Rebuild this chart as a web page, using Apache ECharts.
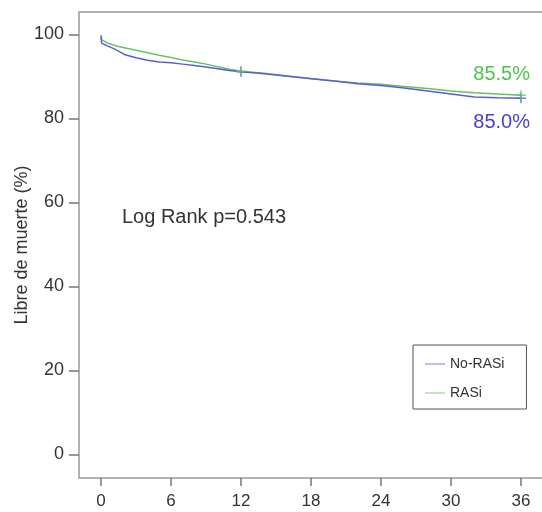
<!DOCTYPE html>
<html>
<head>
<meta charset="utf-8">
<script src="https://cdn.jsdelivr.net/npm/echarts@6/dist/echarts.min.js"></script>
<style>html,body{margin:0;padding:0;background:#fff;}#c{width:542px;height:512px;}</style>
</head>
<body>
<div id="c"></div>
<script>
const months = [0,0.05,0.5,1,1.5,2,3,4,5,6,7,8,9,10,11,12,14,16,18,20,22,24,26,28,30,32,34,36];
const noRasi = [99.5,97.9,97.3,96.7,96.0,95.2,94.4,93.8,93.4,93.2,92.9,92.6,92.2,91.8,91.4,91.1,90.6,90.0,89.4,88.9,88.2,87.8,87.2,86.5,85.8,85.1,84.9,84.8];
const rasi = [99.9,98.7,98.0,97.5,97.1,96.8,96.2,95.6,95.0,94.5,93.9,93.4,92.9,92.3,91.7,91.2,90.7,90.1,89.5,88.9,88.4,88.1,87.6,87.1,86.5,86.1,85.8,85.5];
const censorMonths = [12, 36];
const noRasiCensor = [91.1, 84.8];
const rasiCensor = [91.2, 85.5];
const xTicks = [0, 6, 12, 18, 24, 30, 36];
const yTicks = [0, 20, 40, 60, 80, 100];
const seriesNames = ['No-RASi', 'RASi'];
const endLabels = ['85.0%', '85.5%'];
const logRankText = 'Log Rank p=0.543';
const yName = 'Libre de muerte (%)';

const BLUE = '#5c5cd2', GREEN = '#66c266';
const FONT = '"Liberation Sans", Arial, Helvetica, sans-serif';
const zip = (a, b) => a.map((v, i) => [v, b[i]]);

const chart = echarts.init(document.getElementById('c'), null, {renderer: 'canvas'});
chart.setOption({
  animation: false,
  backgroundColor: '#fff',
  grid: {left: 79, top: 12, right: -3, bottom: 34, outerBoundsMode: 'none', containLabel: false,
         show: true, borderColor: '#999', borderWidth: 1.5, backgroundColor: 'transparent'},
  xAxis: {
    type: 'value', min: -1.886, max: 38.06,
    axisLine: {show: false, onZero: false},
    axisTick: {show: true, length: 8, customValues: xTicks, lineStyle: {color: '#777', width: 1.5}},
    axisLabel: {customValues: xTicks, margin: 15, color: '#333', fontSize: 17, fontFamily: FONT},
    splitLine: {show: false}
  },
  yAxis: {
    type: 'value', min: -5.64, max: 105.31,
    name: yName, nameLocation: 'middle', nameGap: 48, nameRotate: 90, nameMoveOverlap: false,
    nameTextStyle: {color: '#333', fontSize: 18, fontFamily: FONT},
    axisLine: {show: false, onZero: false},
    axisTick: {show: true, length: 10, customValues: yTicks, lineStyle: {color: '#777', width: 1.5}},
    axisLabel: {customValues: yTicks, margin: 15, color: '#333', fontSize: 18, fontFamily: FONT},
    splitLine: {show: false}
  },
  legend: {
    orient: 'vertical', left: 413, top: 345,
    padding: [12, 22, 9, 12], itemGap: 15,
    borderColor: '#555', borderWidth: 1, borderRadius: 0,
    itemWidth: 20, itemHeight: 14,
    textStyle: {color: '#333', fontSize: 14, fontFamily: FONT},
    data: [
      {name: seriesNames[0], icon: 'path://M0,0H20V1.4H0Z', itemStyle: {color: '#a4a4ee'}},
      {name: seriesNames[1], icon: 'path://M0,0H20V1.4H0Z', itemStyle: {color: '#a4dca4'}}
    ]
  },
  series: [
    {name: seriesNames[0], type: 'line', data: zip(months, noRasi),
     symbol: 'none', lineStyle: {color: BLUE, width: 1.5}, itemStyle: {color: BLUE}, z: 3},
    {name: seriesNames[1], type: 'line', data: zip(months, rasi),
     symbol: 'none', lineStyle: {color: GREEN, width: 1.5}, itemStyle: {color: GREEN}, z: 2},
    {type: 'scatter', data: zip(censorMonths, noRasiCensor),
     symbol: 'path://M5,0V10M0,5H10', symbolSize: 10,
     itemStyle: {color: 'none', borderColor: BLUE, borderWidth: 1.5}, z: 4},
    {type: 'scatter', data: zip(censorMonths, rasiCensor),
     symbol: 'path://M5,0V10M0,5H10', symbolSize: 10,
     itemStyle: {color: 'none', borderColor: GREEN, borderWidth: 1.5}, z: 4}
  ],
  graphic: [
    {type: 'text', left: 122, top: 207, style: {text: logRankText, fill: '#333', font: '20px ' + FONT}},
    {type: 'text', right: 12, top: 64, style: {text: endLabels[1], fill: '#4cc44c', font: '20px ' + FONT}},
    {type: 'text', right: 12, top: 112, style: {text: endLabels[0], fill: '#4a3cd6', font: '20px ' + FONT}}
  ]
});
</script>
</body>
</html>
